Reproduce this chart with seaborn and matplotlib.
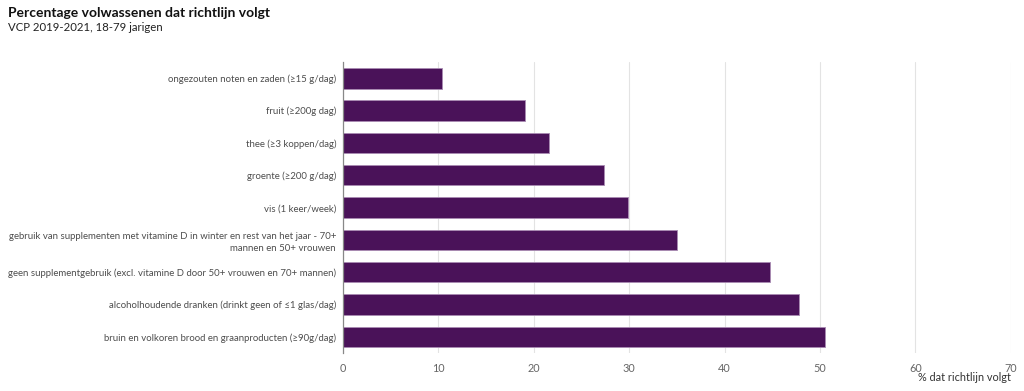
import numpy as np
import pandas as pd
import matplotlib
matplotlib.use("Agg")
import matplotlib.pyplot as plt
import seaborn as sns

categorieen = [
    "ongezouten noten en zaden (≥15 g/dag)",
    "fruit (≥200g dag)",
    "thee (≥3 koppen/dag)",
    "groente (≥200 g/dag)",
    "vis (1 keer/week)",
    "gebruik van supplementen met vitamine D in winter en rest van het jaar - 70+\nmannen en 50+ vrouwen",
    "geen supplementgebruik (excl. vitamine D door 50+ vrouwen en 70+ mannen)",
    "alcoholhoudende dranken (drinkt geen of ≤1 glas/dag)",
    "bruin en volkoren brood en graanproducten (≥90g/dag)",
]
percentages = [10.4, 19.1, 21.6, 27.4, 29.9, 35.0, 44.8, 47.8, 50.5]
x_ticks = [0, 10, 20, 30, 40, 50, 60, 70]

df = pd.DataFrame({"categorie": categorieen, "percentage": percentages})

sns.set_theme(style="white")
plt.rcParams["font.family"] = ["Lato", "DejaVu Sans"]

fig = plt.figure(figsize=(10.24, 3.91), dpi=100)
ax = fig.add_axes([0.335, 0.097, 0.652, 0.744])

sns.barplot(data=df, y="categorie", x="percentage", color="#4a1259",
            edgecolor="#a98bb3", linewidth=0.6, width=0.63, saturation=1, ax=ax)

ax.set_xlim(0, 70)
ax.set_xticks(x_ticks)
ax.set_ylim(len(categorieen) - 0.5, -0.5)
ax.xaxis.grid(True, color="#e3e3e3", linewidth=0.8)
ax.set_axisbelow(True)

for s in ["top", "right", "bottom"]:
    ax.spines[s].set_visible(False)
ax.spines["left"].set_color("#888888")
ax.spines["left"].set_linewidth(0.9)

ax.tick_params(axis="x", length=0, labelsize=7.8, labelcolor="#666666", pad=7)
ax.tick_params(axis="y", which="major", length=0, labelsize=6.9, labelcolor="#4d4d4d", pad=5)
ax.set_yticks(np.arange(-0.5, len(categorieen), 1.0), minor=True)
ax.tick_params(axis="y", which="minor", length=4, width=0.9, color="#888888", direction="out")
for lbl in ax.get_yticklabels():
    lbl.set_horizontalalignment("right")
    lbl.set_multialignment("right")
    lbl.set_linespacing(1.5)

ax.set_ylabel("")
ax.set_xlabel("")
fig.text(0.987, 0.02, "% dat richtlijn volgt", ha="right", va="bottom",
         fontsize=7.8, color="#333333")

fig.text(0.008, 0.967, "Percentage volwassenen dat richtlijn volgt", ha="left", va="center",
         fontsize=10, fontweight="bold", color="#111111")
fig.text(0.008, 0.93, "VCP 2019-2021, 18-79 jarigen", ha="left", va="center",
         fontsize=8.2, color="#222222")

fig.savefig("out.png", dpi=100)
